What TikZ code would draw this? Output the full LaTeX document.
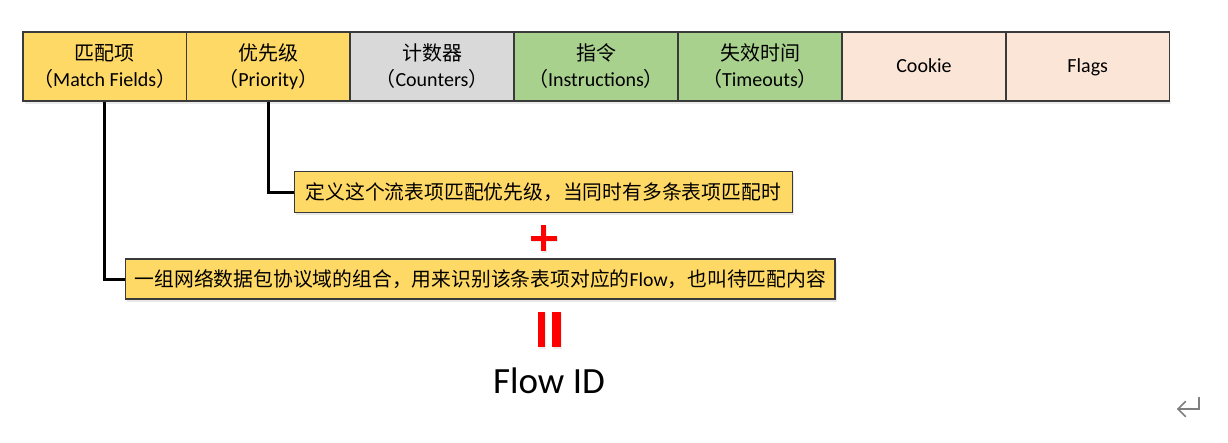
\documentclass[tikz,border=0pt]{standalone}
\usepackage{fontspec}
\setmainfont{Carlito}
\newfontfamily\cjk{Noto Sans CJK SC}
\usetikzlibrary{shadows}
\definecolor{cyellow}{HTML}{FFD966}
\definecolor{cgray}{HTML}{D9D9D9}
\definecolor{cgreen}{HTML}{A9D18E}
\definecolor{cpeach}{HTML}{FBE5D6}
\definecolor{cborder}{HTML}{3A3A3A}
\definecolor{cret}{HTML}{7F7F7F}
\tikzset{
  cell/.style={draw=cborder, line width=1.2pt, minimum height=69pt, inner sep=0pt, align=center,
    font=\fontsize{20}{26}\selectfont, text=black},
  desc/.style={draw=cborder, line width=1.2pt, fill=cyellow, inner sep=0pt, text=black,
    font=\fontsize{19.8}{24}\selectfont,
    drop shadow={opacity=0.18, shadow xshift=1.5pt, shadow yshift=-2.5pt}},
  conn/.style={line width=3pt, black},
  sign/.style={fill=red, draw=none, inner sep=0pt,
    drop shadow={opacity=0.15, shadow xshift=1pt, shadow yshift=-1.5pt}},
  retmark/.style={cret, line width=1.5pt}
}
\begin{document}
\begin{tikzpicture}[x=1pt,y=-1pt]
\useasboundingbox (0,0) rectangle (1228,442);
% shadow under top row
\fill[black, opacity=0.08] (24.5,101) rectangle (1171,104);
% top row
\node[cell, fill=cyellow, minimum width=163.5pt] (mf) at (104.75,66.5) {{\cjk 匹配项}\\{\cjk （}Match Fields{\cjk ）}};
\node[cell, fill=cyellow, minimum width=163.5pt] (pr) at (268.25,66.5) {{\cjk 优先级}\\{\cjk （}Priority{\cjk ）}};
\node[cell, fill=cgray, minimum width=164pt] (ct) at (432,66.5) {{\cjk 计数器}\\{\cjk （}Counters{\cjk ）}};
\node[cell, fill=cgreen, minimum width=164pt] (in) at (596,66.5) {{\cjk 指令}\\{\cjk （}Instructions{\cjk ）}};
\node[cell, fill=cgreen, minimum width=164pt] (to) at (760,66.5) {{\cjk 失效时间}\\{\cjk （}Timeouts{\cjk ）}};
\node[cell, fill=cpeach, minimum width=164pt] (ck) at (924,66.5) {\raisebox{-6.2pt}[0pt][0pt]{Cookie}};
\node[cell, fill=cpeach, minimum width=163.5pt] (fl) at (1087.75,66.5) {\raisebox{-6.2pt}[0pt][0pt]{Flags}};
% description boxes
\node[desc, minimum width=498pt, minimum height=40.6pt] (d2) at (543.3,192) {{\cjk 定义这个流表项匹配优先级，当同时有多条表项匹配时}};
\node[desc, minimum width=709.3pt, minimum height=40pt] (d1) at (480.4,279) {{\cjk 一组网络数据包协议域的组合，用来识别该条表项对应的}Flow{\cjk ，也叫待匹配内容}};
% connectors
\draw[conn] (mf.south) |- (d1.west);
\draw[conn] (pr.south) |- (d2.west);
% plus sign
\node[sign, minimum width=26pt, minimum height=5pt] (plush) at (543.7,238.3) {};
\node[sign, minimum width=5pt, minimum height=26pt] (plusv) at (543.7,238.3) {};
% equals sign (vertical bars)
\node[sign, minimum width=7.6pt, minimum height=35.6pt] (eqa) at (541.3,329.5) {};
\node[sign, minimum width=8.2pt, minimum height=35.6pt] (eqb) at (556.5,329.5) {};
% Flow ID
\node[anchor=base, inner sep=0pt, font=\fontsize{37}{40}\selectfont, text=black] (fid) at (549,393) {Flow ID};
% return mark
\coordinate (r1) at (1199,397.5);
\coordinate (r2) at (1199,409);
\coordinate (r3) at (1178,409);
\draw[retmark, line cap=round, line join=miter] (r1) -- (r2) -- (r3);
\draw[retmark, line cap=round] (1185.5,401.5) -- (r3) -- (1185.5,416.5);
\end{tikzpicture}
\end{document}
